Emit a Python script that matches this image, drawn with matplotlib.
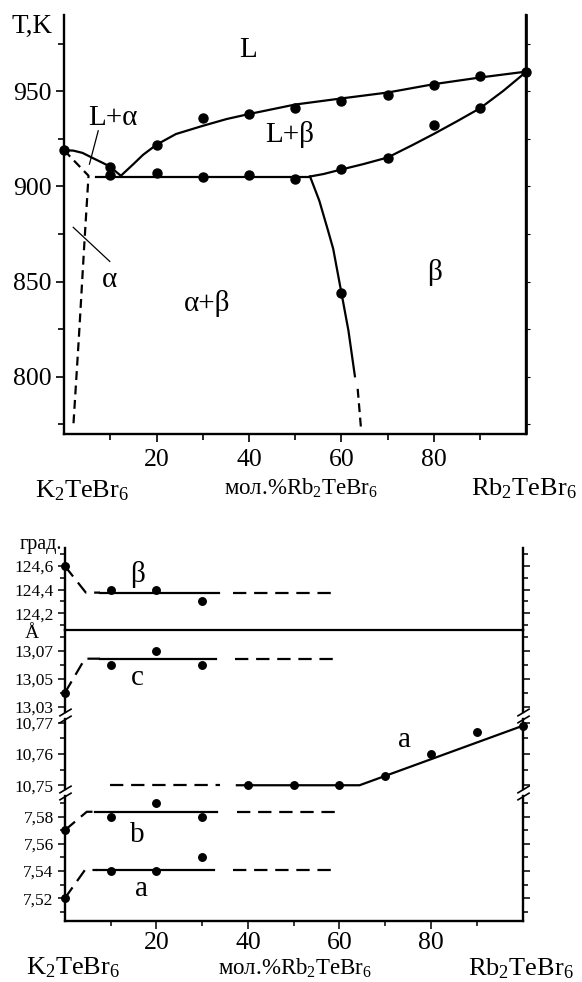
import matplotlib
matplotlib.use("Agg")
from matplotlib import pyplot as plt
from matplotlib.ticker import MultipleLocator, FixedLocator

plt.rcParams["font.family"] = ["Liberation Serif", "DejaVu Serif"]
plt.rcParams["mathtext.fontset"] = "custom"
plt.rcParams["mathtext.rm"] = "Liberation Serif"
plt.rcParams["mathtext.it"] = "Liberation Serif:italic"

W, H = 582, 982

# --- phase diagram: measured points ---
liq_x = [0, 10, 20, 30, 40, 50, 60, 70, 80, 90, 100]
liq_t = [919, 910, 922, 936, 938, 941, 945, 948, 953, 958, 960]
sol_x = [10, 20, 30, 40, 50, 60, 70, 80, 90]
sol_t = [906, 907, 905, 906, 904, 909, 915, 932, 941]
solv_pt_x = [60]
solv_pt_t = [844]

# --- phase diagram: drawn boundaries ---
liq_a_x = [0, 2, 4, 6.3, 8.5, 10, 11.4, 12.3]
liq_a_t = [919, 918.8, 917.6, 914.8, 912.2, 910.3, 907.4, 905.6]
liq_b_x = [12.3, 15, 17.1, 20, 24.2, 30, 35.2, 40, 50, 60, 70, 80, 90, 100]
liq_b_t = [905.6, 911.7, 916.6, 921.9, 927.5, 931.8, 935.4, 938, 943, 946.2, 949.3, 953.7, 957.2, 960.3]
eut_x = [6.9, 53.2]
eut_t = [905.2, 905.2]
solid_b_x = [53.2, 56.1, 60, 64.7, 70, 75.5, 80, 84.9, 90, 95, 100]
solid_b_t = [905.2, 906.5, 908.9, 911.7, 915.2, 921.9, 927.6, 934.1, 941.1, 950.2, 960.3]
solv_b_x = [53.2, 55.2, 57.1, 58.2, 60, 61.5, 62.9]
solv_b_t = [905.2, 892.5, 876.7, 867.3, 843.9, 824.3, 800.3]
solv_b_dash_x = [63.5, 64.2]
solv_b_dash_t = [793.7, 773.4]
solv_a_x = [0, 5.3, 4.4, 3.2, 2.0]
solv_a_t = [919, 905.6, 870, 820, 773.5]

# --- lattice parameters ---
comp_lo = [0, 10, 20, 30]
beta_deg = [124.6, 124.4, 124.4, 124.3]
c_par = [13.04, 13.06, 13.07, 13.06]
b_par = [7.57, 7.58, 7.59, 7.58]
a_lo = [7.52, 7.54, 7.54, 7.55]
comp_hi = [40, 50, 60, 70, 80, 90, 100]
a_hi = [10.75, 10.75, 10.75, 10.753, 10.76, 10.767, 10.769]

beta_lvl = 124.375
c_lvl = 13.0645
b_lvl = 7.5836
a_lvl = 7.5408
a_hi_lvl = 10.75

beta_ticks = [124.2, 124.4, 124.6]
c_ticks = [13.03, 13.05, 13.07]
ahi_ticks = [10.75, 10.76, 10.77]
alo_ticks = [7.52, 7.54, 7.56, 7.58]


def px_axes(fig, x0, y0, x1, y1):
    return fig.add_axes([x0 / W, 1 - y1 / H, (x1 - x0) / W, (y1 - y0) / H])


def comma(v):
    return ("%g" % v).replace(".", ",")


fig = plt.figure(figsize=(W / 100, H / 100), dpi=100)

# ================= top: phase diagram =================
ax = px_axes(fig, 64, 15, 526.5, 434)
ax.set_xlim(0, 100)
ax.set_ylim(770, 990)
for s in ["left", "bottom", "right"]:
    ax.spines[s].set_linewidth(1.7)
ax.spines["top"].set_visible(False)
ax.set_xticks([20, 40, 60, 80])
ax.xaxis.set_minor_locator(FixedLocator([10, 30, 50, 70, 90]))
ax.set_yticks([800, 850, 900, 950])
ax.yaxis.set_minor_locator(FixedLocator([775, 825, 875, 925, 975]))
ax.tick_params(which="both", direction="out", labelsize=18.5, width=1.2)
ax.tick_params(which="major", length=6)
ax.tick_params(which="minor", length=4)
ax.tick_params(axis="x", pad=5)
ax.tick_params(axis="y", pad=3)
sec = ax.secondary_yaxis("right")
sec.set_yticks([775, 800, 825, 850, 875, 900, 925, 950, 975])
sec.tick_params(length=2.5, width=0.8, labelright=False, direction="out")
sec.spines["right"].set_linewidth(1.2)

lw = 1.6
ax.plot(liq_a_x, liq_a_t, color="k", lw=lw)
ax.plot(liq_b_x, liq_b_t, color="k", lw=lw)
ax.plot(eut_x, eut_t, color="k", lw=lw)
ax.plot(solid_b_x, solid_b_t, color="k", lw=lw)
ax.plot(solv_b_x, solv_b_t, color="k", lw=lw)
ax.plot(solv_b_dash_x, solv_b_dash_t, color="k", lw=lw, dashes=(4, 2.5))
ax.plot(solv_a_x, solv_a_t, color="k", lw=lw, dashes=(4, 2.5))
ax.plot(liq_x, liq_t, "o", color="k", ms=6.5, clip_on=False)
ax.plot(sol_x, sol_t, "o", color="k", ms=6.5)
ax.plot(solv_pt_x, solv_pt_t, "o", color="k", ms=6.5)

# leader lines
ax.plot([7.4, 5.5], [929.2, 911.7], color="k", lw=0.9)
ax.plot([2.0, 9.9], [878.5, 860.6], color="k", lw=0.9)

lab = 21
ax.text(39.8, 971.5, "L", fontsize=lab, ha="center", va="center")
ax.text(10.6, 936, "L+α", fontsize=lab, ha="center", va="center")
ax.text(48.7, 927.5, "L+β", fontsize=lab, ha="center", va="center")
ax.text(30.9, 838.3, "α+β", fontsize=lab, ha="center", va="center")
ax.text(80.2, 854.9, "β", fontsize=lab, ha="center", va="center")
ax.text(9.9, 851, "α", fontsize=lab, ha="center", va="center")
ax.text(-6.9, 984, "T,K", fontsize=19.5, ha="center", va="center", clip_on=False)

fig.text(82.5 / W, 1 - 491 / H, "K$_2$TeBr$_6$", fontsize=19, ha="center", va="center")
fig.text(301 / W, 1 - 488 / H, "мол.%Rb$_2$TeBr$_6$", fontsize=16.5, ha="center", va="center")
fig.text(524 / W, 1 - 489 / H, "Rb$_2$TeBr$_6$", fontsize=19, ha="center", va="center")

# ================= bottom: lattice parameters (broken axis) =================
x0, x1 = 64.8, 522.5
segs = [
    (548, 630, (124.059, 124.752), beta_ticks, 0.1),
    (630, 712, (13.0264, 13.085), c_ticks, 0.01),
    (719, 789, (10.7488, 10.7712), ahi_ticks, 0.005),
    (796, 921, (7.5033, 7.5952), alo_ticks, 0.01),
]
axs = []
for i, (ya, yb, lim, ticks, minor) in enumerate(segs):
    a = px_axes(fig, x0, ya, x1, yb)
    a.patch.set_visible(False)
    a.set_xlim(0, 100)
    a.set_ylim(*lim)
    a.set_yticks(ticks)
    a.set_yticklabels([comma(t) for t in ticks])
    a.yaxis.set_minor_locator(MultipleLocator(minor))
    a.spines["top"].set_visible(False)
    a.spines["left"].set_linewidth(1.7)
    a.spines["right"].set_linewidth(1.7)
    a.spines["bottom"].set_linewidth(1.7)
    if i in (1, 2):
        a.spines["bottom"].set_visible(False)
    a.tick_params(which="both", direction="out", labelsize=12.5, width=1.1, pad=3,
                  right=True, labelright=False)
    a.tick_params(which="major", length=5)
    a.tick_params(which="minor", length=3.5)
    if i < 3:
        a.tick_params(axis="x", which="both", bottom=False, labelbottom=False)
    axs.append(a)

ax_b, ax_c, ax_ah, ax_al = axs
ax_b.spines["bottom"].set_linewidth(1.6)
ax_al.set_xticks([20, 40, 60, 80])
ax_al.xaxis.set_minor_locator(FixedLocator([10, 30, 50, 70, 90]))
ax_al.tick_params(axis="x", labelsize=18.5, pad=2)
ax_al.tick_params(axis="x", which="major", length=6)

# break marks
kw = dict(marker=[(-1, -0.6), (1, 0.6)], markersize=9, linestyle="none",
          color="k", mec="k", mew=1.2, clip_on=False)
ax_c.plot([0, 1], [0, 0], transform=ax_c.transAxes, **kw)
ax_ah.plot([0, 1], [1, 1], transform=ax_ah.transAxes, **kw)
ax_ah.plot([0, 1], [0, 0], transform=ax_ah.transAxes, **kw)
ax_al.plot([0, 1], [1, 1], transform=ax_al.transAxes, **kw)

ms = 5.4
dsh = (6, 3.5)
# beta angle
ax_b.plot(comp_lo, beta_deg, "o", color="k", ms=ms, clip_on=False)
ax_b.plot([0, 4.6, 7.7], [beta_deg[0], beta_lvl, beta_lvl], color="k", lw=lw, dashes=dsh)
ax_b.plot([7.7, 33.6], [beta_lvl, beta_lvl], color="k", lw=lw)
ax_b.plot([36.8, 59.1], [beta_lvl, beta_lvl], color="k", lw=lw, dashes=dsh)
ax_b.text(15.9, 124.53, "β", fontsize=lab, ha="center", va="center")
# c
ax_c.plot(comp_lo, c_par, "o", color="k", ms=ms, clip_on=False)
ax_c.plot([0, 4.4, 7.7], [c_par[0], c_lvl, c_lvl], color="k", lw=lw, dashes=dsh)
ax_c.plot([7.7, 33.0], [c_lvl, c_lvl], color="k", lw=lw)
ax_c.plot([37.2, 59.1], [c_lvl, c_lvl], color="k", lw=lw, dashes=dsh)
ax_c.text(15.9, 13.051, "c", fontsize=lab, ha="center", va="center")
# a (high part)
ax_ah.plot(comp_hi, a_hi, "o", color="k", ms=ms, clip_on=False)
ax_ah.plot([9.9, 34.0], [a_hi_lvl, a_hi_lvl], color="k", lw=lw, dashes=dsh)
ax_ah.plot([37.6, 64.4, 100], [a_hi_lvl, a_hi_lvl, a_hi[-1]], color="k", lw=lw)
ax_ah.text(74.3, 10.7645, "a", fontsize=lab, ha="center", va="center")
# b and a (low part)
ax_al.plot(comp_lo, b_par, "o", color="k", ms=ms, clip_on=False)
ax_al.plot([0, 4.8, 6.6], [b_par[0], b_lvl, b_lvl], color="k", lw=lw, dashes=dsh)
ax_al.plot([6.6, 33.3], [b_lvl, b_lvl], color="k", lw=lw)
ax_al.plot([37.6, 59.8], [b_lvl, b_lvl], color="k", lw=lw, dashes=dsh)
ax_al.plot(comp_lo, a_lo, "o", color="k", ms=ms, clip_on=False)
ax_al.plot([0, 4.4, 7.0], [a_lo[0], a_lvl, a_lvl], color="k", lw=lw, dashes=dsh)
ax_al.plot([7.0, 32.5], [a_lvl, a_lvl], color="k", lw=lw)
ax_al.plot([36.8, 59.0], [a_lvl, a_lvl], color="k", lw=lw, dashes=dsh)
ax_al.text(15.9, 7.5665, "b", fontsize=lab, ha="center", va="center")
ax_al.text(16.8, 7.5265, "a", fontsize=lab, ha="center", va="center")

fig.text(62 / W, 1 - 545 / H, "град.", fontsize=14.5, ha="right", va="center")
fig.text(32 / W, 1 - 634 / H, "Å", fontsize=14, ha="center", va="center")

fig.text(73.5 / W, 1 - 968 / H, "K$_2$TeBr$_6$", fontsize=19, ha="center", va="center")
fig.text(295 / W, 1 - 968 / H, "мол.%Rb$_2$TeBr$_6$", fontsize=16.5, ha="center", va="center")
fig.text(521 / W, 1 - 969 / H, "Rb$_2$TeBr$_6$", fontsize=19, ha="center", va="center")

fig.savefig("out.png", dpi=100)
